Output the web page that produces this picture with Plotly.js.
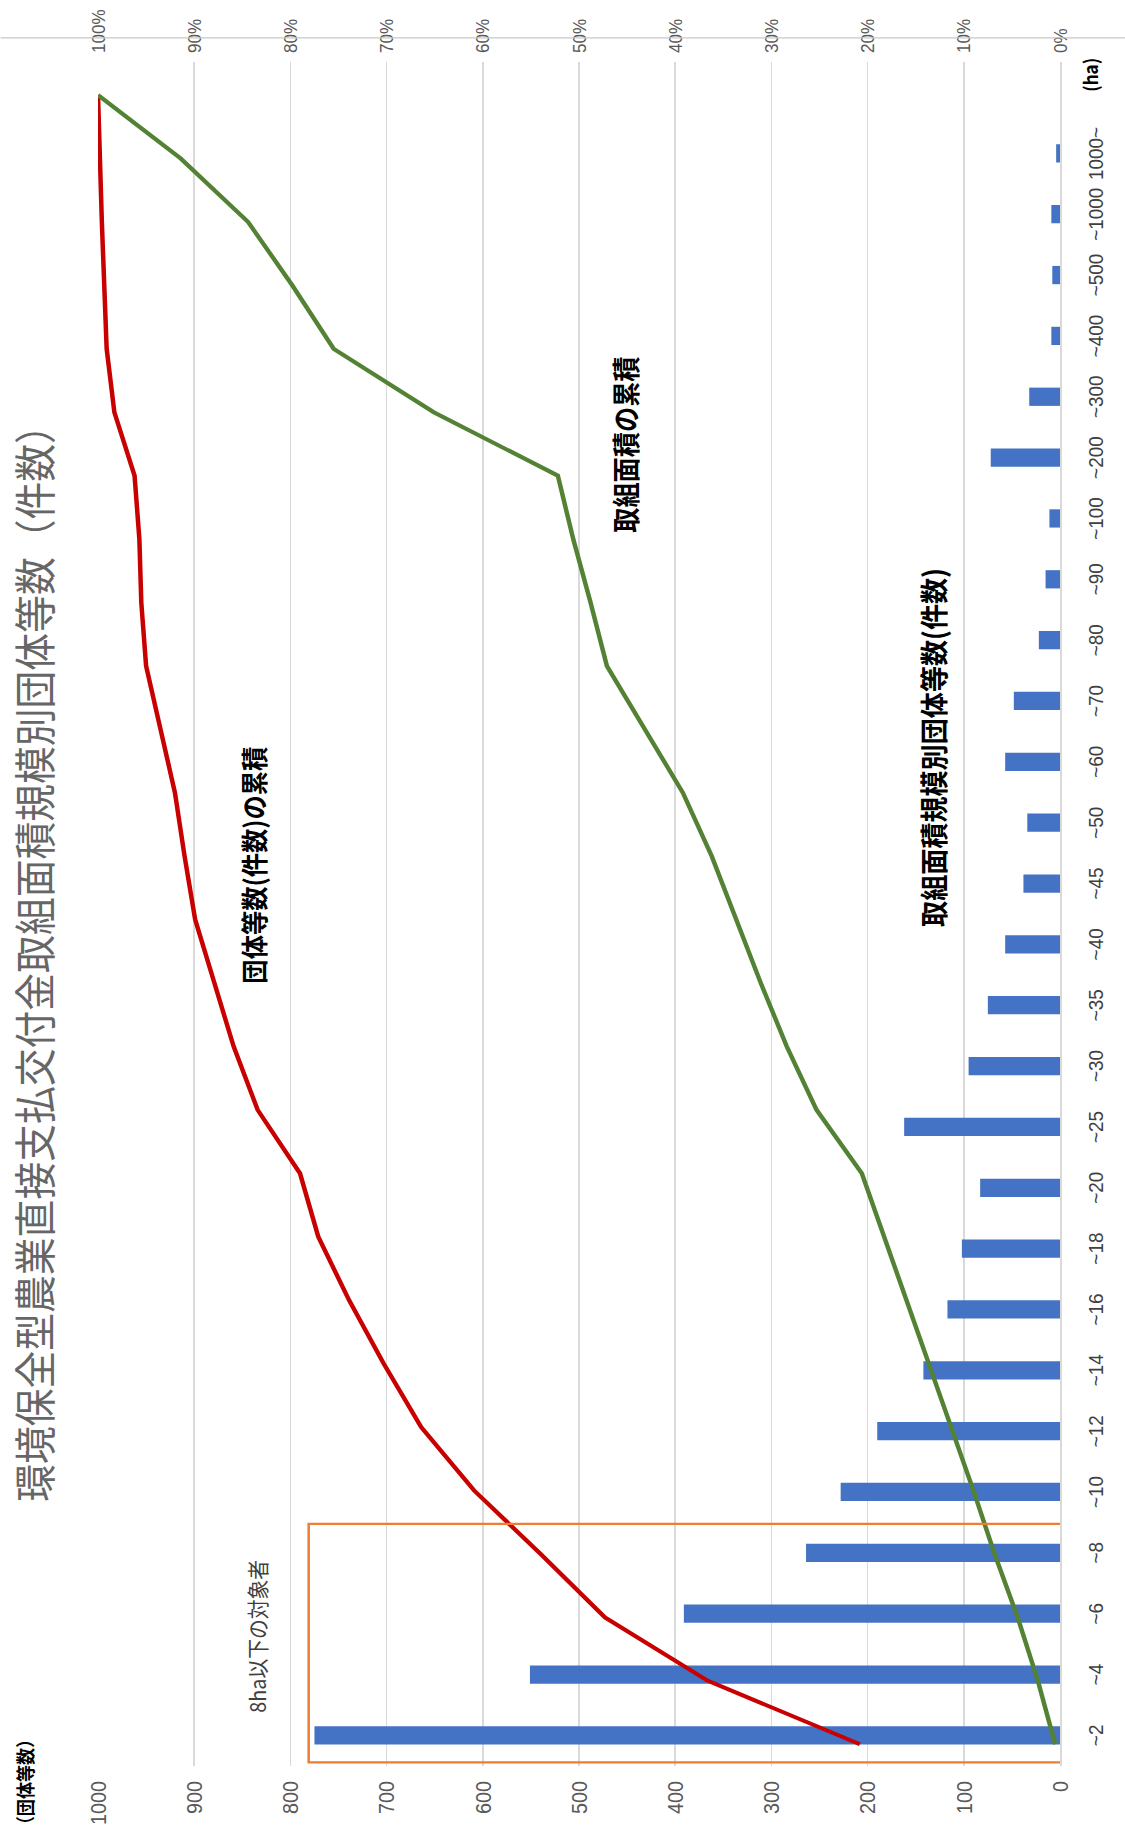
<!DOCTYPE html>
<html>
<head>
<meta charset="utf-8">
<script src="https://cdn.plot.ly/plotly-3.0.1.min.js"></script>
<style>
  html, body { margin: 0; padding: 0; background: #ffffff; }
  body { width: 1125px; height: 1836px; overflow: hidden; position: relative; }
  /* the chart is laid out landscape, narrowed a little, then turned a quarter turn */
  #chart {
    position: absolute; left: 0; top: 0;
    width: 2040px; height: 1125px;
    transform-origin: 0 0;
    transform: translateY(1836px) rotate(-90deg) scaleX(0.9);
  }
</style>
</head>
<body>
<div id="chart"></div>
<script>
// 取組面積規模 (ha)
const categories = ['~2','~4','~6','~8','~10','~12','~14','~16','~18','~20','~25','~30','~35','~40','~45','~50','~60','~70','~80','~90','~100','~200','~300','~400','~500','~1000','1000~'];
// 取組面積規模別団体等数（件数）
const groupCounts = [775,551,391,264,228,190,142,117,102,83,162,95,75,57,38,34,57,48,22,15,11,72,32,9,8,9,4];
// 団体等数（件数）の累積 (%)
const countCumShare = [20.8,36.6,47.3,54.0,60.9,66.4,70.3,73.9,77.1,79.0,83.4,85.9,87.9,89.9,91.0,92.0,93.5,95.0,95.5,95.7,96.2,98.3,99.1,99.4,99.6,99.8,100];
// 取組面積の累積 (%)
const areaCumShare = [0.5,2.3,4.4,6.8,9.0,11.3,13.6,16.0,18.3,20.6,25.3,28.4,31.1,33.7,36.2,39.2,43.1,47.1,48.8,50.6,52.2,65.1,75.5,79.8,84.4,91.4,100];
// axis ticks
const countTicks = [0,100,200,300,400,500,600,700,800,900,1000];
const shareTicks = [0,10,20,30,40,50,60,70,80,90,100];
const shareTickLabels = ['0%','10%','20%','30%','40%','50%','60%','70%','80%','90%','100%'];

const W = 2040, H = 1125;
const M = {l: 78, r: 69, t: 97.5, b: 65};
const pw = W - M.l - M.r, ph = H - M.t - M.b;
const px = x => (x - M.l) / pw;
const py = y => 1 - (y - M.t) / ph;

const JP = '"Noto Sans CJK JP", "Noto Sans", sans-serif';
const NUM = '"Liberation Sans", Arial, sans-serif';
const NARROW = '"Liberation Sans Narrow", "Liberation Sans", Arial, sans-serif';

const traces = [
  {
    type: 'bar', x: categories, y: groupCounts,
    xaxis: 'x', yaxis: 'y',
    marker: {color: '#4472C4'},
    hoverinfo: 'skip', showlegend: false
  },
  {
    type: 'scatter', mode: 'lines', x: categories, y: countCumShare,
    xaxis: 'x2', yaxis: 'y2',
    line: {color: '#C80000', width: 4.5},
    hoverinfo: 'skip', showlegend: false
  },
  {
    type: 'scatter', mode: 'lines', x: categories, y: areaCumShare,
    xaxis: 'x2', yaxis: 'y2',
    line: {color: '#548235', width: 4.5},
    hoverinfo: 'skip', showlegend: false
  }
];

const annots = [
  {text: '<b>団体等数(件数)の累積</b>', x: px(1078), y: py(253), size: 27, color: '#000000'},
  {text: '<b>取組面積の累積</b>', x: px(1546), y: py(625), size: 28, color: '#000000'},
  {text: '<b>取組面積規模別団体等数(件数)</b>', x: px(1209), y: py(932), size: 29, color: '#000000'},
  {text: '8ha以下の対象者', x: px(222), y: py(256), size: 22, color: '#404040'},
  {text: '<b>（団体等数）</b>', x: px(60), y: py(24), size: 19, color: '#000000'},
  {text: '<b>(ha)</b>', x: px(1957), y: py(1090), size: 19, color: '#000000'}
].map(a => ({
  text: a.text, x: a.x, y: a.y, xref: 'paper', yref: 'paper',
  xanchor: 'center', yanchor: 'middle', showarrow: false,
  font: {family: JP, size: a.size, color: a.color}
}));

const layout = {
  width: W, height: H,
  margin: {l: M.l, r: M.r, t: M.t, b: M.b, pad: 0},
  paper_bgcolor: '#ffffff', plot_bgcolor: '#ffffff',
  bargap: 0.7,
  title: {
    text: '環境保全型農業直接支払交付金取組面積規模別団体等数（件数）',
    xref: 'container', yref: 'container',
    x: 980 / W, y: 1 - 36 / H, xanchor: 'center', yanchor: 'middle',
    font: {family: JP, size: 42, color: '#666666'}
  },
  xaxis: {
    type: 'category', range: [-0.5, 27.5], automargin: false,
    showgrid: false, showline: true, linecolor: '#D9D9D9', linewidth: 1.5,
    ticks: '', ticklabelstandoff: 16,
    tickfont: {family: NARROW, size: 21, color: '#404040'}
  },
  xaxis2: {
    type: 'category', overlaying: 'x', range: [-0.34, 26.52],
    visible: false, showgrid: false
  },
  yaxis: {
    range: [0, 1000], tickvals: countTicks, automargin: false,
    showgrid: true, gridcolor: '#D9D9D9', gridwidth: 1.5, zeroline: false,
    ticks: '', ticklabelstandoff: 16,
    tickfont: {family: NUM, size: 22, color: '#595959'}
  },
  yaxis2: {
    range: [0, 100], tickvals: shareTicks, ticktext: shareTickLabels,
    overlaying: 'y', side: 'right', automargin: false,
    showgrid: false, zeroline: false, ticks: '', ticklabelstandoff: 9,
    tickfont: {family: NUM, size: 19, color: '#595959'}
  },
  shapes: [
    {type: 'rect', xref: 'x', yref: 'y', x0: -0.445, x1: 3.475, y0: -3, y1: 781,
     line: {color: '#ED7D31', width: 2.5}, fillcolor: 'rgba(0,0,0,0)', layer: 'above'},
    {type: 'line', xref: 'paper', yref: 'paper', x0: px(1998), x1: px(1998), y0: py(0), y1: py(H),
     line: {color: '#C8C8C8', width: 1.5}}
  ],
  annotations: annots
};

Plotly.newPlot('chart', traces, layout, {staticPlot: true, displayModeBar: false});
</script>
</body>
</html>
